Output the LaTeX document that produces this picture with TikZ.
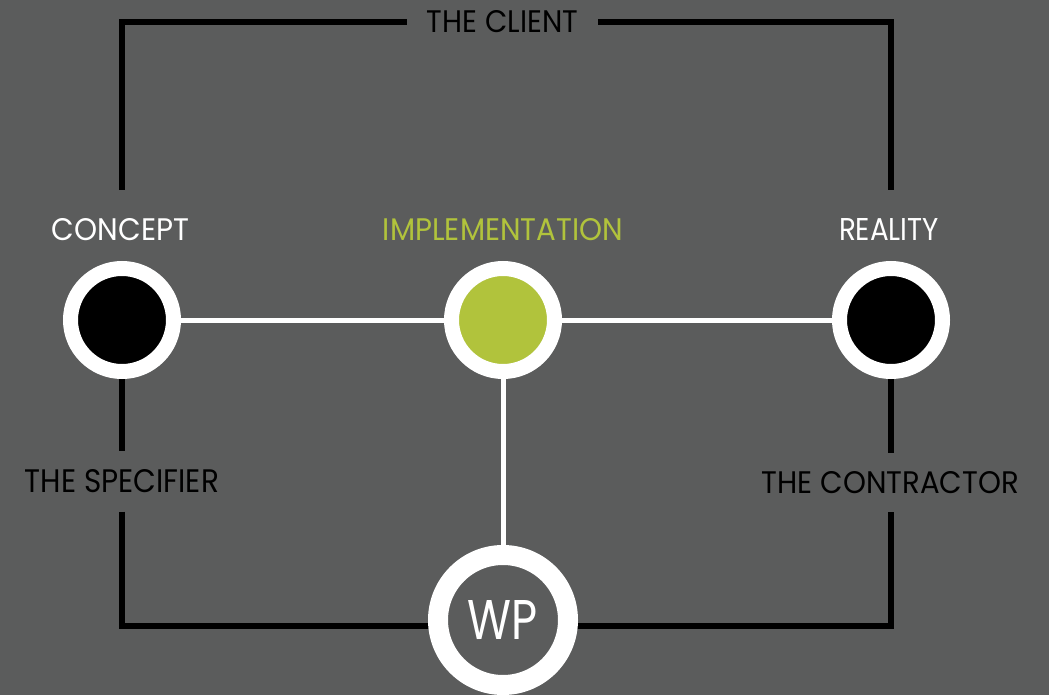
\documentclass[tikz,border=0pt]{standalone}
\usepackage{fontspec}
\setmainfont{Poppins}
\usepackage{graphicx}
\pgfdeclarelayer{bg}
\pgfsetlayers{bg,main}
\definecolor{bggray}{RGB}{91,92,92}
\definecolor{limegreen}{RGB}{177,195,60}
\begin{document}
\begin{tikzpicture}[x=1pt,y=-1pt,
  ring/.style={circle, draw=white, line width=15pt, minimum size=103pt, inner sep=0pt},
  wpring/.style={circle, draw=white, line width=20pt, minimum size=130pt, inner sep=0pt, fill=bggray},
  lbl/.style={inner sep=0pt, outer sep=0pt},
  blk/.style={draw=black, line width=6pt, line join=miter},
  wht/.style={draw=white, line width=5pt}]
\begin{pgfonlayer}{bg}
\fill[bggray] (0,0) rectangle (1049,695);
\end{pgfonlayer}
\useasboundingbox (0,0) rectangle (1049,695);
% circles
\node[ring, fill=black] (c) at (122,320) {};
\node[ring, fill=limegreen] (i) at (503,320) {};
\node[ring, fill=black] (r) at (891,320) {};
\node[wpring, text=white] (wp) at (503,620) {\resizebox{70pt}{39pt}{WP}};
% labels
\node[lbl, text=white] (concept) at (120.5,229.5) {\resizebox{137pt}{22pt}{CONCEPT}};
\node[lbl, text=limegreen] (impl) at (503,229.5) {\resizebox{240pt}{22pt}{IMPLEMENTATION}};
\node[lbl, text=white] (reality) at (889,229.5) {\resizebox{100pt}{22pt}{REALITY}};
\node[lbl, text=black, outer xsep=20pt] (client) at (502.5,22) {\resizebox{151pt}{22pt}{THE CLIENT}};
\node[lbl, text=black, outer ysep=18.5pt] (spec) at (122,481.5) {\resizebox{194pt}{23pt}{THE SPECIFIER}};
\node[lbl, text=black, outer ysep=18.5pt] (contr) at (890.5,482.5) {\resizebox{257pt}{22pt}{THE CONTRACTOR}};
% connectors
\begin{pgfonlayer}{bg}
\coordinate (tl) at (122,190);
\coordinate (tr) at (890.5,190);
\coordinate (wpc) at (503,626);
\draw[blk] (tl) |- (client.west);
\draw[blk] (client.east) -| (tr);
\draw[blk] (c.south) -- (spec.north);
\draw[blk] (spec.south) |- (wpc);
\draw[blk] (r.south) -- (r.south |- contr.north);
\draw[blk] (r.south |- contr.south) |- (wpc);
\draw[wht] (c) -- (i);
\draw[wht] (i) -- (r);
\draw[wht] (i) -- (wp);
\end{pgfonlayer}
\end{tikzpicture}
\end{document}
